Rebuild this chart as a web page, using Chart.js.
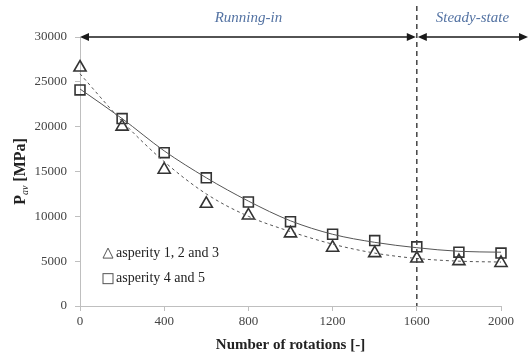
<!DOCTYPE html>
<html>
<head>
<meta charset="utf-8">
<script src="https://cdn.jsdelivr.net/npm/chart.js@4"></script>
<style>
  html, body { margin: 0; padding: 0; background: #fff; }
  .chart-wrapper { width: 531px; height: 358px; }
</style>
</head>
<body>
<div class="chart-wrapper">
  <canvas id="myChart" width="531" height="358"></canvas>
</div>
<script>
// data
const rotations = [0, 200, 400, 600, 800, 1000, 1200, 1400, 1600, 1800, 2000]
const asperity123 = [26600, 20000, 15200, 11400, 10100, 8100, 6500, 5900, 5300, 5000, 4800]
const asperity45 = [24100, 20900, 17100, 14300, 11600, 9400, 8000, 7300, 6600, 6000, 5900]
const trend123 = [25900, 20600, 16100, 12500, 10000, 8300, 6900, 5900, 5300, 5000, 4900]
const trend45 = [24200, 20900, 17300, 14300, 11700, 9500, 8000, 7100, 6500, 6100, 6000]
const xTicks = [0, 400, 800, 1200, 1600, 2000]
const phaseBoundary = 1600
const phaseLabels = ['Running-in', 'Steady-state']
const legendLabels = ['asperity 1, 2 and 3', 'asperity 4 and 5']

const serif = '"Liberation Serif", "DejaVu Serif", serif'
const ink = '#333333'

const toPoints = (ys) => rotations.map((x, i) => ({ x, y: ys[i] }))

// arrows, phase labels, dashed divider and legend
const annotations = {
  id: 'annotations',
  afterDatasetsDraw (chart) {
    const { ctx, chartArea, scales } = chart
    const yTop = scales.y.getPixelForValue(30000)
    const xStart = scales.x.getPixelForValue(0)
    const xSplit = scales.x.getPixelForValue(phaseBoundary)
    const xEnd = chart.width - 3

    ctx.save()
    // dashed divider
    ctx.strokeStyle = '#444'
    ctx.lineWidth = 1.5
    ctx.setLineDash([5, 4])
    ctx.beginPath()
    ctx.moveTo(xSplit, 6)
    ctx.lineTo(xSplit, chartArea.bottom)
    ctx.stroke()
    ctx.setLineDash([])

    const arrowHead = (x, y, dir) => {
      ctx.beginPath()
      ctx.moveTo(x, y)
      ctx.lineTo(x - dir * 9, y - 4)
      ctx.lineTo(x - dir * 9, y + 4)
      ctx.closePath()
      ctx.fill()
    }
    const doubleArrow = (x1, x2) => {
      ctx.beginPath()
      ctx.moveTo(x1 + 4, yTop)
      ctx.lineTo(x2 - 4, yTop)
      ctx.stroke()
      arrowHead(x1, yTop, -1)
      arrowHead(x2, yTop, 1)
    }
    ctx.strokeStyle = '#1a1a1a'
    ctx.fillStyle = '#1a1a1a'
    ctx.lineWidth = 1.5
    doubleArrow(xStart, xSplit - 1)
    doubleArrow(xSplit + 1, xEnd)

    ctx.fillStyle = '#5473a3'
    ctx.font = 'italic 15px ' + serif
    ctx.textAlign = 'center'
    ctx.textBaseline = 'middle'
    ctx.fillText(phaseLabels[0], (xStart + xSplit) / 2, 18)
    ctx.fillText(phaseLabels[1], (xSplit + xEnd) / 2, 18)

    // legend
    const lx = 108
    const rows = [scales.y.getPixelForValue(5900), scales.y.getPixelForValue(3050)]
    ctx.strokeStyle = '#555'
    ctx.lineWidth = 1
    ctx.beginPath()
    ctx.moveTo(lx - 5, rows[0] + 5)
    ctx.lineTo(lx, rows[0] - 5)
    ctx.lineTo(lx + 5, rows[0] + 5)
    ctx.closePath()
    ctx.stroke()
    ctx.strokeRect(lx - 5, rows[1] - 5, 10, 10)
    ctx.fillStyle = '#222'
    ctx.font = '14px ' + serif
    ctx.textAlign = 'left'
    ctx.fillText(legendLabels[0], lx + 8, rows[0])
    ctx.fillText(legendLabels[1], lx + 8, rows[1])
    ctx.restore()
  },
  afterDraw (chart) {
    // y title with subscript
    const { ctx, chartArea } = chart
    ctx.save()
    ctx.translate(20, (chartArea.top + chartArea.bottom) / 2)
    ctx.rotate(-Math.PI / 2)
    ctx.fillStyle = '#222'
    ctx.textBaseline = 'alphabetic'
    const parts = [
      { t: 'P', f: 'bold 16px ' + serif, dy: 0 },
      { t: 'av', f: 'italic 10px ' + serif, dy: 3 },
      { t: ' [MPa]', f: 'bold 16px ' + serif, dy: 0 }
    ]
    let total = 0
    parts.forEach(p => { ctx.font = p.f; p.w = ctx.measureText(p.t).width; total += p.w })
    let x = -total / 2
    parts.forEach(p => {
      ctx.font = p.f
      ctx.fillText(p.t, x, 5 + p.dy)
      x += p.w
    })
    ctx.restore()
  }
}

const plainTick = (value) => String(value)

const myChart = new Chart(document.querySelector('#myChart'), {
  type: 'line',
  data: {
    datasets: [
      {
        label: 'trend 1, 2 and 3',
        data: toPoints(trend123),
        borderColor: '#555',
        borderWidth: 1,
        borderDash: [3, 3],
        pointRadius: 0,
        cubicInterpolationMode: 'monotone',
        clip: false
      },
      {
        label: 'trend 4 and 5',
        data: toPoints(trend45),
        borderColor: '#555',
        borderWidth: 1,
        pointRadius: 0,
        cubicInterpolationMode: 'monotone',
        clip: false
      },
      {
        label: legendLabels[0],
        data: toPoints(asperity123),
        showLine: false,
        pointStyle: 'triangle',
        pointRadius: 7,
        pointBorderWidth: 1.6,
        pointBorderColor: ink,
        pointBackgroundColor: 'rgba(255,255,255,0)',
        clip: false
      },
      {
        label: legendLabels[1],
        data: toPoints(asperity45),
        showLine: false,
        pointStyle: 'rect',
        pointRadius: 7,
        pointBorderWidth: 1.6,
        pointBorderColor: ink,
        pointBackgroundColor: 'rgba(255,255,255,0)',
        clip: false
      }
    ]
  },
  options: {
    responsive: false,
    animation: false,
    layout: { padding: { top: 37, right: 30, left: 0, bottom: 0 } },
    plugins: {
      legend: { display: false },
      tooltip: { enabled: false }
    },
    scales: {
      x: {
        type: 'linear',
        min: 0,
        max: 2000,
        afterBuildTicks: (scale) => { scale.ticks = xTicks.map(v => ({ value: v })) },
        afterFit: (scale) => { scale.height = 52 },
        grid: { drawOnChartArea: false, tickLength: 5, color: '#bfbfbf' },
        border: { color: '#bfbfbf' },
        ticks: { color: '#444', font: { family: serif, size: 13 }, padding: 3, callback: plainTick },
        title: {
          display: true,
          text: 'Number of rotations [-]',
          color: '#222',
          font: { family: serif, size: 15, weight: 'bold' },
          padding: { top: 4 }
        }
      },
      y: {
        min: 0,
        max: 30000,
        afterFit: (scale) => { scale.width = 80 },
        grid: { drawOnChartArea: false, tickLength: 5, color: '#bfbfbf' },
        border: { color: '#bfbfbf' },
        ticks: { stepSize: 5000, color: '#444', font: { family: serif, size: 13 }, padding: 8, callback: plainTick }
      }
    }
  },
  plugins: [annotations]
})
</script>
</body>
</html>
